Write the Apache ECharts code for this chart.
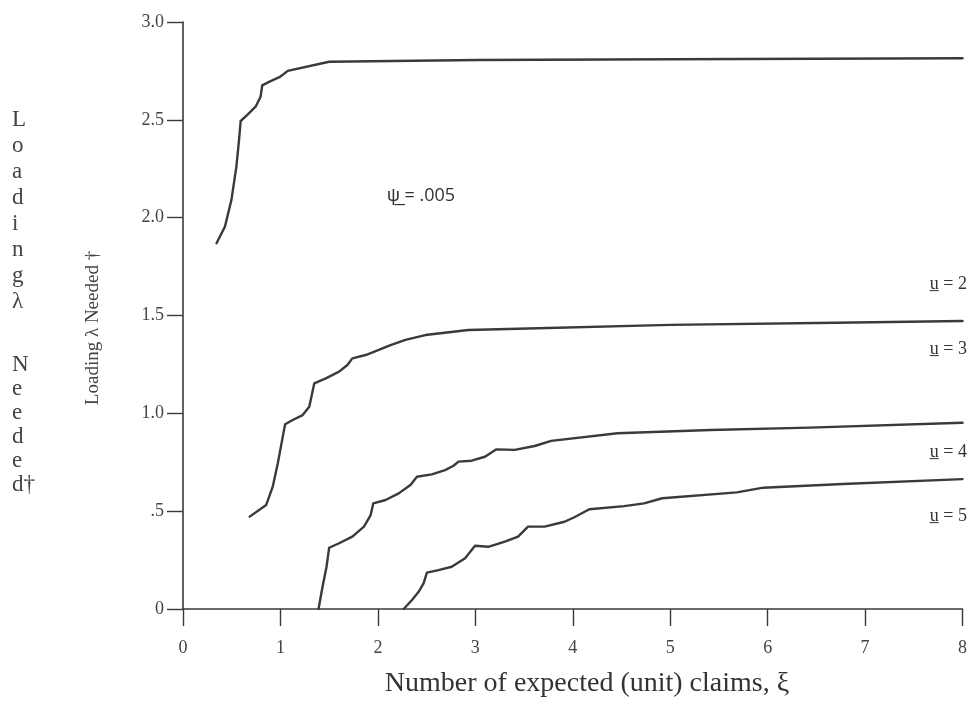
<!DOCTYPE html>
<html>
<head>
<meta charset="utf-8">
<script src="https://cdn.jsdelivr.net/npm/echarts@6/dist/echarts.min.js"></script>
<style>
html,body{margin:0;padding:0;background:#fff;}
#chart{width:970px;height:713px;}
</style>
</head>
<body>
<div id="chart"></div>
<script>
// ---- data ----
var xTickLabels = ['0','1','2','3','4','5','6','7','8'];
var yTickLabels = ['0','.5','1.0','1.5','2.0','2.5','3.0'];

var u2X = [0.344,0.43,0.497,0.548,0.575,0.592,0.66,0.745,0.796,0.813,0.888,0.99,1.075,1.5,3.03,5.0,8.0];
var u2Y = [1.869,1.954,2.091,2.261,2.397,2.494,2.525,2.567,2.618,2.676,2.695,2.718,2.75,2.797,2.806,2.81,2.815];

var u3X = [0.684,0.854,0.921,0.973,1.024,1.048,1.126,1.228,1.296,1.347,1.466,1.602,1.687,1.738,1.874,2.01,2.13,2.283,2.487,2.929,3.643,5.0,6.7,8.0];
var u3Y = [0.472,0.532,0.625,0.745,0.881,0.944,0.966,0.991,1.034,1.153,1.179,1.213,1.247,1.281,1.298,1.324,1.349,1.375,1.40,1.426,1.435,1.452,1.463,1.472];

var u4X = [1.391,1.432,1.473,1.5,1.602,1.738,1.857,1.926,1.953,2.079,2.214,2.334,2.401,2.554,2.69,2.776,2.827,2.962,3.099,3.217,3.405,3.609,3.779,4.459,5.411,6.432,8.0];
var u4Y = [0,0.114,0.216,0.313,0.336,0.37,0.421,0.48,0.54,0.557,0.591,0.634,0.676,0.688,0.71,0.732,0.753,0.758,0.778,0.816,0.813,0.833,0.859,0.898,0.915,0.927,0.952];

var u5X = [2.265,2.35,2.418,2.469,2.503,2.622,2.758,2.895,2.997,3.133,3.303,3.439,3.541,3.711,3.915,4.017,4.17,4.528,4.732,4.918,5.684,5.956,6.772,8.0];
var u5Y = [0,0.046,0.088,0.131,0.186,0.199,0.216,0.259,0.323,0.318,0.344,0.37,0.421,0.421,0.446,0.469,0.51,0.526,0.54,0.566,0.596,0.62,0.639,0.664];

var curveNames = ['u = 2','u = 3','u = 4','u = 5'];

function pairs(xs, ys){ return xs.map(function(x,i){ return [x, ys[i]]; }); }

var lineColor = '#3a3a3a';
var axisColor = '#3a3a3a';
var serif = '"Liberation Serif", "DejaVu Serif", serif';

var chart = echarts.init(document.getElementById('chart'), null, {renderer:'canvas'});

var seriesList = [[u2X,u2Y],[u3X,u3Y],[u4X,u4Y],[u5X,u5Y]].map(function(d,i){
  return {
    name: curveNames[i],
    type: 'line',
    data: pairs(d[0], d[1]),
    showSymbol: false,
    symbol: 'none',
    smooth: false,
    lineStyle: {color: lineColor, width: 2.4, join: 'round', cap: 'round'},
    animation: false
  };
});

var option = {
  backgroundColor: '#ffffff',
  animation: false,
  grid: {left: 183, right: 3, top: 22, bottom: 104, containLabel: false},
  xAxis: {
    type: 'value', min: 0, max: 8, interval: 1,
    axisLine: {show: true, onZero: false, lineStyle: {color: axisColor, width: 1.6}},
    axisTick: {show: true, length: 17, lineStyle: {color: axisColor, width: 1.4}},
    axisLabel: {
      margin: 30, fontFamily: serif, fontSize: 18, color: '#444',
      formatter: function(v){ return xTickLabels[Math.round(v)]; }
    },
    splitLine: {show: false}
  },
  yAxis: {
    type: 'value', min: 0, max: 3, interval: 0.5,
    axisLine: {show: true, onZero: false, lineStyle: {color: axisColor, width: 1.6}},
    axisTick: {show: true, length: 16, lineStyle: {color: axisColor, width: 1.4}},
    axisLabel: {
      margin: 19, fontFamily: serif, fontSize: 18, color: '#444',
      padding: [0,0,9,0],
      formatter: function(v){ return yTickLabels[Math.round(v*2)]; }
    },
    splitLine: {show: false}
  },
  series: seriesList,
  graphic: [
    {type:'text', left: 12, top: 107, style:{text:'L\no\na\nd\ni\nn\ng\nλ', font:'23px ' + serif, fill:'#444', lineHeight: 26, textAlign:'left'}},
    {type:'text', left: 12, top: 353, style:{text:'N\ne\ne\nd\ne\nd†', font:'23px ' + serif, fill:'#444', lineHeight: 24, textAlign:'left'}},
    {type:'text', x: 93, y: 328, rotation: Math.PI/2, style:{text:'Loading λ Needed †', font:'19px ' + serif, fill:'#444', textAlign:'center', textVerticalAlign:'middle'}},
    {type:'text', x: 587, y: 684, style:{text:'Number of expected (unit) claims, ξ', font:'28px ' + serif, fill:'#333', textAlign:'center', textVerticalAlign:'middle'}},
    {type:'text', x: 967, y: 284, style:{text:'u\u0332 = 2', font:'18px ' + serif, fill:'#333', textAlign:'right', textVerticalAlign:'middle'}},
    {type:'text', x: 967, y: 349, style:{text:'u\u0332 = 3', font:'18px ' + serif, fill:'#333', textAlign:'right', textVerticalAlign:'middle'}},
    {type:'text', x: 967, y: 452, style:{text:'u\u0332 = 4', font:'18px ' + serif, fill:'#333', textAlign:'right', textVerticalAlign:'middle'}},
    {type:'text', x: 967, y: 516, style:{text:'u\u0332 = 5', font:'18px ' + serif, fill:'#333', textAlign:'right', textVerticalAlign:'middle'}},
    {type:'text', x: 387, y: 196, style:{text:'ψ\u0332 = .005', font:'18px "Open Sans", "Liberation Sans", sans-serif', fill:'#333', textAlign:'left', textVerticalAlign:'middle'}}
  ]
};
chart.setOption(option);
</script>
</body>
</html>
